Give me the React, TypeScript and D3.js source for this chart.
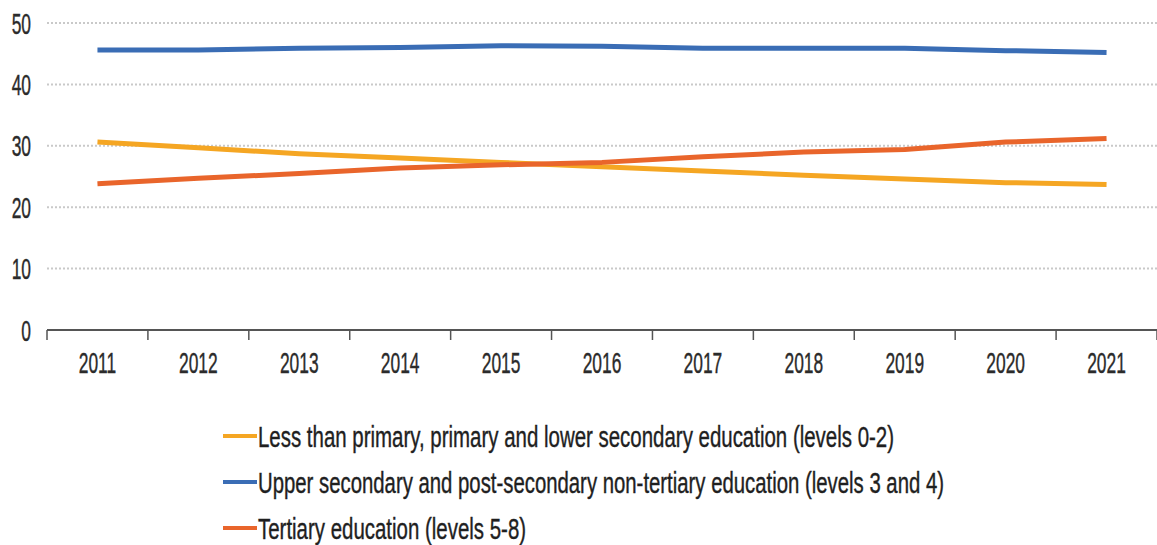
import React, { useLayoutEffect, useRef, useState } from "react";
import * as d3 from "d3";

const years = ["2011", "2012", "2013", "2014", "2015", "2016", "2017", "2018", "2019", "2020", "2021"];
const lowerSecondary = [30.6, 29.7, 28.7, 28.0, 27.3, 26.6, 25.9, 25.2, 24.6, 24.0, 23.7];
const upperSecondary = [45.6, 45.6, 45.9, 46.0, 46.3, 46.2, 45.9, 45.9, 45.9, 45.5, 45.2];
const tertiary = [23.8, 24.7, 25.5, 26.4, 26.9, 27.3, 28.2, 29.0, 29.4, 30.6, 31.2];
const yTicks = [0, 10, 20, 30, 40, 50];

const seriesNames = [
  "Less than primary, primary and lower secondary education (levels 0-2)",
  "Upper secondary and post-secondary non-tertiary education (levels 3 and 4)",
  "Tertiary education (levels 5-8)",
];
const seriesColors = ["#f5a623", "#3a6db5", "#e9652b"];
const seriesValues = [lowerSecondary, upperSecondary, tertiary];
const legendWidths = [636, 686, 268];

const W = 1157;
const H = 545;
const FONT = "'Liberation Sans', Arial, sans-serif";

export default function App() {
  const x = d3.scaleBand<string>().domain(years).range([47, 1157]).padding(0);
  const y = d3.scaleLinear().domain([0, 50]).range([330, 23]);
  const cx = (yr: string) => (x(yr) as number) + x.bandwidth() / 2;
  const line = d3
    .line<number>()
    .x((_, i) => cx(years[i]))
    .y((v) => y(v));

  const boundaries = years.map((yr) => x(yr) as number).concat([1157]);

  const refs = useRef<(SVGTextElement | null)[]>([]);
  const [scales, setScales] = useState<number[]>([0.62, 0.62, 0.62]);
  useLayoutEffect(() => {
    const s = refs.current.map((el, i) => {
      if (!el) return 0.62;
      const w = el.getComputedTextLength();
      return w > 0 ? legendWidths[i] / w : 0.62;
    });
    setScales(s);
  }, []);

  return (
    <svg
      width={W}
      height={H}
      style={{ position: "absolute", left: 0, top: 0, background: "#fff" }}
      fontFamily={FONT}
    >
      {/* gridlines */}
      {yTicks
        .filter((t) => t > 0)
        .map((t) => (
          <line
            key={"g" + t}
            x1={47}
            x2={1157}
            y1={y(t)}
            y2={y(t)}
            stroke="#c9c9c9"
            strokeWidth={2}
            strokeDasharray="2,2"
          />
        ))}
      {/* y labels */}
      {yTicks.map((t) => (
        <g key={"yl" + t} transform={`translate(31,${y(t) + 10.5}) scale(0.6,1)`}>
          <text textAnchor="end" fontSize={29} fill="#2b2b2b" stroke="#2b2b2b" strokeWidth={0.4}>
            {t}
          </text>
        </g>
      ))}
      {/* x axis */}
      <line x1={47} x2={1157} y1={330} y2={330} stroke="#555" strokeWidth={2} />
      {boundaries.map((b, i) => (
        <line key={"t" + i} x1={b} x2={b} y1={330} y2={340} stroke="#555" strokeWidth={1.5} />
      ))}
      {years.map((yr) => (
        <g key={"xl" + yr} transform={`translate(${cx(yr)},373) scale(0.6,1)`}>
          <text textAnchor="middle" fontSize={29} fill="#2b2b2b" stroke="#2b2b2b" strokeWidth={0.4}>
            {yr}
          </text>
        </g>
      ))}
      {/* lines */}
      {seriesValues.map((vals, i) => (
        <path
          key={"s" + i}
          d={line(vals) || ""}
          fill="none"
          stroke={seriesColors[i]}
          strokeWidth={5}
          strokeLinejoin="round"
        />
      ))}
      {/* legend */}
      {seriesNames.map((name, i) => {
        const ly = 436 + i * 46;
        return (
          <g key={"lg" + i}>
            <line x1={223} x2={257} y1={ly} y2={ly} stroke={seriesColors[i]} strokeWidth={4} />
            <g transform={`translate(258,${ly + 11}) scale(${scales[i]},1)`}>
              <text
                ref={(el) => {
                  refs.current[i] = el;
                }}
                fontSize={29}
                fill="#1f1f1f"
                stroke="#1f1f1f"
                strokeWidth={0.4}
              >
                {name}
              </text>
            </g>
          </g>
        );
      })}
    </svg>
  );
}
